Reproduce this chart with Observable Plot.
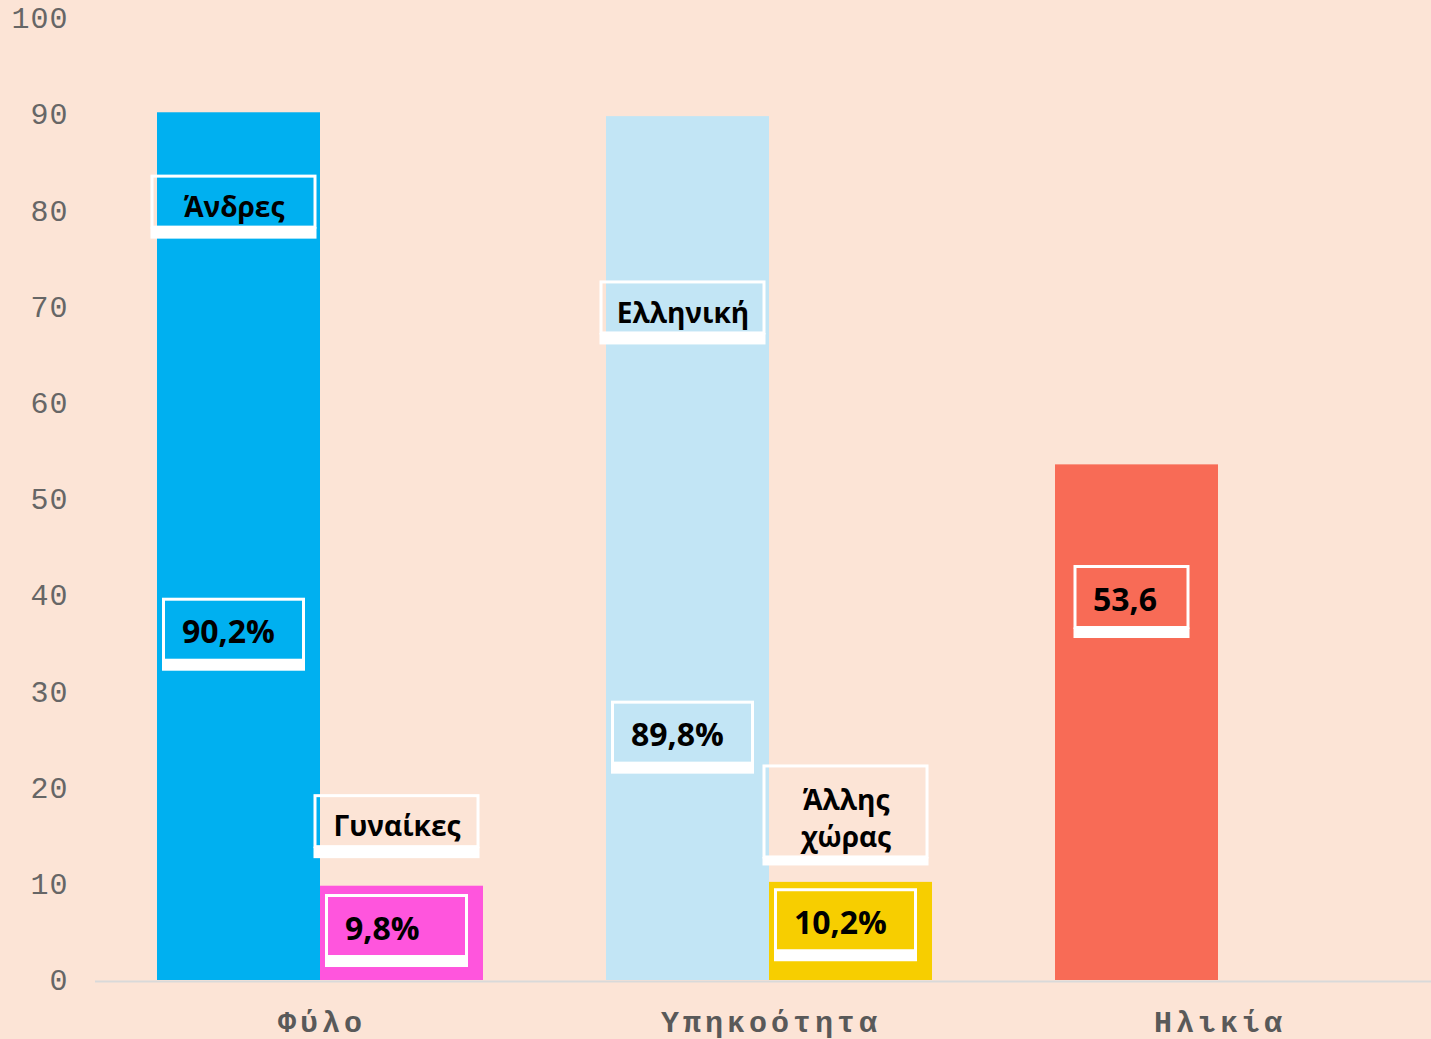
<!DOCTYPE html>
<html><head><meta charset="utf-8">
<script src="https://cdn.jsdelivr.net/npm/d3@7"></script>
<script src="https://cdn.jsdelivr.net/npm/@observablehq/plot@0.6"></script>
<style>
html,body{margin:0;padding:0;background:#FCE4D6;overflow:hidden;}
#chart svg{display:block}
g[aria-label="fx-axis tick label"] text{letter-spacing:4px}
g[aria-label="y-axis tick label"] text{letter-spacing:1px}
</style></head><body><div id="chart"></div>
<script>
// ---- data ----
const groups = ["Φύλο", "Υπηκοότητα", "Ηλικία"];
const barGroup = ["Φύλο", "Φύλο", "Υπηκοότητα", "Υπηκοότητα", "Ηλικία"];
const barSlot = ["a", "b", "a", "b", "a"];
const barNames = ["Άνδρες", "Γυναίκες", "Ελληνική", "Άλλης\nχώρας", ""];
const barValues = [90.2, 9.8, 89.8, 10.2, 53.6];
const barLabels = ["90,2%", "9,8%", "89,8%", "10,2%", "53,6"];
const barColors = ["#00B0F0", "#FF55DD", "#C2E5F5", "#F7CE00", "#F86B56"];
const yTicks = [0, 10, 20, 30, 40, 50, 60, 70, 80, 90, 100];

// ---- layout of the annotation boxes (y in axis units) ----
const nameY = [80.6, 16.2, 69.6, 17.0, null];
const valueY = [36.1, 5.3, 25.4, 5.9, 39.5];
const boxStyles = {
  name:  {w: 166, top: -34, inner: 20, outer: 30},
  name2: {w: 166, top: -56, inner: 38, outer: 45},
  pct:   {w: 143, top: -35, inner: 29, outer: 38},
  age:   {w: 116, top: -35, inner: 29, outer: 38}
};
const boxDx = -5;

const bars = barValues.map((v, i) => ({group: barGroup[i], slot: barSlot[i], value: v, color: barColors[i]}));
const nameLabels = barNames.map((t, i) => ({group: barGroup[i], slot: barSlot[i], y: nameY[i], text: t,
  kind: t.includes("\n") ? "name2" : "name"})).filter(d => d.text);
const valueLabels = barLabels.map((t, i) => ({group: barGroup[i], slot: barSlot[i], y: valueY[i], text: t,
  kind: barGroup[i] === "Ηλικία" ? "age" : "pct"}));

function boxMark(data, shift = 0) {
  return Plot.dot(data, {
    fx: "group", x: "slot", y: "y", r: 1,
    render(index, scales, values) {
      const g = d3.create("svg:g");
      const bw = scales.x.bandwidth ? scales.x.bandwidth() / 2 : 0;
      for (const i of index) {
        const s = boxStyles[data[i].kind];
        const cx = values.x[i] + bw + boxDx, cy = values.y[i] + shift;
        g.append("rect").attr("x", cx - s.w / 2 + 1.5).attr("y", cy + s.top + 1.5)
          .attr("width", s.w - 3).attr("height", s.inner - s.top - 3)
          .attr("fill", "none").attr("stroke", "white").attr("stroke-width", 3);
        g.append("rect").attr("x", cx - s.w / 2).attr("y", cy + s.inner - 1.5)
          .attr("width", s.w).attr("height", s.outer - s.inner + 1.5).attr("fill", "white");
      }
      return g.node();
    }
  });
}

const chart = Plot.plot({
  width: 1431, height: 1039,
  marginTop: 18, marginBottom: 59, marginLeft: 96, marginRight: 0,
  style: {background: "#FCE4D6", fontFamily: "Liberation Mono", overflow: "hidden"},
  fx: {domain: groups, range: [94.5, 1441.5], padding: 0, label: null},
  x: {domain: ["a", "b"], paddingInner: 0, paddingOuter: 0.369, axis: null},
  y: {domain: [0, 100], axis: null},
  color: {type: "identity"},
  marks: [
    Plot.barY(bars, {fx: "group", x: "slot", y: "value", fill: "color", inset: 0}),
    Plot.ruleY([0], {stroke: "#D9D9D9", strokeWidth: 2, dy: 1}),
    Plot.axisY({ticks: yTicks, tickSize: 0, tickPadding: 27, fontSize: 30, fontFamily: "Liberation Mono",
      color: "#666666", label: null}),
    Plot.axisFx({anchor: "bottom", tickSize: 0, tickPadding: 30, dx: 2, fontSize: 30, fontWeight: "bold",
      fontFamily: "Liberation Mono", color: "#595959", label: null}),
    boxMark(nameLabels, 4),
    boxMark(valueLabels),
    Plot.text(nameLabels, {fx: "group", x: "slot", y: "y", text: "text", dx: boxDx,
      fontFamily: "Open Sans", fontWeight: 700, fontSize: 28, lineHeight: 1.32, fill: "black"}),
    Plot.text(valueLabels.filter(d => d.kind === "pct"), {fx: "group", x: "slot", y: "y", text: "text",
      textAnchor: "start", dx: -57, fontFamily: "Open Sans", fontWeight: 700, fontSize: 32, fill: "black"}),
    Plot.text(valueLabels.filter(d => d.kind === "age"), {fx: "group", x: "slot", y: "y", text: "text",
      textAnchor: "start", dx: -44, fontFamily: "Open Sans", fontWeight: 700, fontSize: 32, fill: "black"})
  ]
});
document.getElementById("chart").append(chart);
</script></body></html>
